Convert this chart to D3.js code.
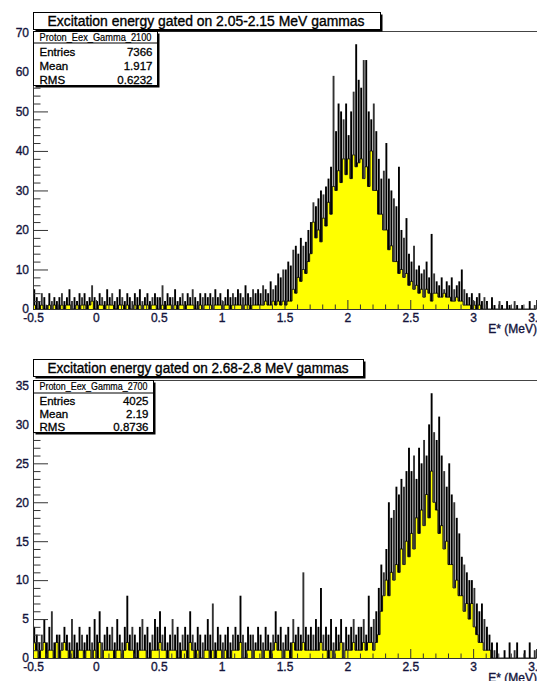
<!DOCTYPE html>
<html>
<head>
<meta charset="utf-8">
<script src="https://cdn.jsdelivr.net/npm/d3@7"></script>
<style>
  body { margin: 0; background: #fff; }
  svg { display: block; font-family: "Liberation Sans", Arial, sans-serif; }
</style>
</head>
<body>
<svg id="chart" width="537" height="681"></svg>
<script>
// 200 bins of 0.02 MeV from -0.5 to 3.5
const binLow = -0.5;
const binWidth = 0.02;

// gate 2.05-2.15 MeV : hi = tallest spike in the bin, lo = top of the yellow
const hi2100 = [
  5,3,2,4,3,1,4,2,3,2,   3,4,2,3,5,2,3,2,4,3,
  4,2,3,6,3,2,4,3,2,5,   3,4,2,3,5,3,2,4,3,2,
  4,3,5,2,3,4,2,3,4,3,   3,6,2,4,3,3,5,2,3,4,
  2,4,3,5,3,2,4,3,4,3,   4,3,5,3,4,2,3,5,3,4,
  3,5,4,3,6,4,3,5,4,5,   4,6,5,4,7,5,6,9,8,10,
  10,12,11,15,16,14,18,16,17,20,   22,27,26,28,30,29,31,33,36,59,
  45,52,50,48,52,44,50,55,67,58,   56,63,63,50,48,52,45,38,33,35,
  42,33,30,28,26,36,20,18,23,14,   12,16,10,11,9,10,12,8,19,9,
  7,6,8,5,7,6,8,5,6,7,   10,5,4,3,4,2,3,4,2,3,
  2,0,3,1,0,2,1,0,2,1,   0,2,1,0,1,0,0,2,0,1
];
const lo2100 = [
  1,0,0,1,0,0,1,0,1,0,   0,1,0,1,1,0,0,1,0,1,
  1,0,1,2,0,0,1,1,0,1,   1,1,0,0,1,1,0,1,0,0,
  1,0,1,0,1,1,0,1,1,0,   0,1,0,1,1,0,1,0,1,1,
  0,1,1,1,0,0,1,0,1,1,   1,0,1,1,1,0,1,1,0,1,
  1,1,1,0,1,1,0,1,1,1,   1,1,2,1,1,2,1,2,1,2,
  1,2,2,5,4,8,7,10,9,12,   14,22,18,20,17,23,21,27,24,31,
  30,35,32,38,34,38,33,39,36,37,   38,33,36,31,40,30,30,24,24,20,
  20,15,16,12,12,9,10,8,9,6,   7,5,6,4,5,3,5,4,2,4,
  4,3,3,4,3,3,2,2,3,2,   2,1,1,1,0,1,0,1,0,0,
  0,0,0,0,0,0,0,0,0,0,   0,0,0,0,0,0,0,0,0,0
];

// gate 2.68-2.8 MeV
const hi2700 = [
  4,3,2,3,5,2,4,6,2,3,   3,2,4,3,2,5,3,2,4,3,
  2,3,4,2,5,3,6,2,3,4,   3,4,2,5,3,2,4,8,3,4,
  3,2,4,5,3,4,2,3,5,4,   6,3,4,2,3,5,3,4,2,3,
  4,3,6,3,2,4,3,2,3,5,   3,7,2,4,3,2,3,4,2,3,
  4,3,8,3,2,4,3,3,2,4,   3,2,4,3,2,3,6,3,4,2,
  3,4,2,5,3,4,3,11,4,3,   4,3,5,4,9,3,4,3,5,2,
  4,3,5,2,4,3,4,5,3,4,   4,5,3,8,4,5,6,9,12,11,
  14,20,18,19,22,21,23,22,24,27,   24,26,23,27,25,28,26,30,34,29,
  28,31,26,24,22,25,21,20,18,16,   13,12,11,10,10,9,7,6,7,5,
  4,3,2,1,2,0,0,1,0,2,   0,1,2,0,0,1,0,2,0,1
];
const lo2700 = [
  2,1,0,1,2,0,1,1,0,2,   0,1,2,1,0,1,0,0,1,1,
  0,1,1,0,1,0,2,0,1,1,   1,1,0,1,1,0,1,2,1,1,
  0,0,1,1,1,0,0,1,1,1,   2,1,1,0,1,1,1,0,0,1,
  1,0,2,1,0,1,0,0,1,1,   0,1,0,1,1,0,1,0,0,1,
  1,1,2,0,0,1,1,0,1,1,   1,0,1,1,0,1,2,1,1,0,
  1,1,0,2,1,1,1,2,1,1,   1,1,1,1,2,1,1,0,1,0,
  1,1,2,0,1,1,1,2,1,1,   1,2,1,2,2,1,2,3,6,8,
  10,8,11,10,12,11,14,12,15,13,   16,14,18,16,19,17,21,18,24,20,
  19,16,17,14,15,12,12,9,10,8,   8,6,7,5,7,4,3,2,2,1,
  1,1,0,0,0,0,0,0,0,0,   0,0,0,0,0,0,0,0,0,0
];

const xTicks = [-0.5, 0, 0.5, 1, 1.5, 2, 2.5, 3, 3.5];
const yTicks2100 = [0, 10, 20, 30, 40, 50, 60, 70];
const yTicks2700 = [0, 5, 10, 15, 20, 25, 30, 35];

const stats2100 = [["Entries", "7366"], ["Mean", "1.917"], ["RMS", "0.6232"]];
const stats2700 = [["Entries", "4025"], ["Mean", "2.19"], ["RMS", "0.8736"]];

const labelColor = "#14143c";
const svg = d3.select("#chart");
const x = d3.scaleLinear().domain([-0.5, 3.5]).range([33, 536]);

const panels = [
  {
    title: "Excitation energy gated on 2.05-2.15 MeV gammas",
    name: "Proton_Eex_Gamma_2100",
    hi: hi2100, lo: lo2100, stats: stats2100,
    yMax: 70.35, yTicks: yTicks2100, yMinorStep: 2,
    top: 31, bottom: 309,
    titleBox: {x: 33.5, y: 12.5, w: 347, h: 17, textLen: 317},
    statBox: {x: 33.5, y: 31.5, w: 124, h: 54, head: 11.5}
  },
  {
    title: "Excitation energy gated on 2.68-2.8 MeV gammas",
    name: "Proton_Eex_Gamma_2700",
    hi: hi2700, lo: lo2700, stats: stats2700,
    yMax: 35.7, yTicks: yTicks2700, yMinorStep: 1,
    top: 380, bottom: 658,
    titleBox: {x: 33.5, y: 359.5, w: 330, h: 17, textLen: 301},
    statBox: {x: 33.5, y: 380.5, w: 120, h: 52, head: 12.5}
  }
];

panels.forEach(drawPanel);

function drawPanel(p){
  const y = d3.scaleLinear().domain([0, p.yMax]).range([p.bottom, p.top]);
  const g = svg.append("g");

  const bins = p.hi.map((h, i) => ({x0: binLow + i * binWidth, hi: h, lo: p.lo[i]}));
  const pts = bins.map(b => [b.x0, b.lo]).concat([[binLow + bins.length * binWidth, 0]]);

  const area = d3.area()
    .x(d => x(d[0]))
    .y0(y(0))
    .y1(d => y(d[1]))
    .curve(d3.curveStepAfter);

  g.append("path").datum(pts)
    .attr("d", area)
    .attr("fill", "#ffff00");

  g.append("path").datum(pts)
    .attr("d", area.lineY1())
    .attr("fill", "none")
    .attr("stroke", "#000")
    .attr("stroke-width", 0.9);

  g.selectAll("line.spike")
    .data(bins.filter(b => b.hi > b.lo))
    .join("line")
    .attr("class", "spike")
    .attr("x1", b => x(b.x0 + binWidth / 2))
    .attr("x2", b => x(b.x0 + binWidth / 2))
    .attr("y1", b => y(b.lo))
    .attr("y2", b => y(b.hi))
    .attr("stroke", (b, i) => i % 4 === 3 ? "#333" : "#000")
    .attr("stroke-width", 1.9);

  // frame top
  g.append("line")
    .attr("x1", 33).attr("x2", 537)
    .attr("y1", p.top + 0.5).attr("y2", p.top + 0.5)
    .attr("stroke", "#444");

  // y axis (major + minor, ticks pointing inwards)
  const yMinor = d3.range(0, p.yMax, p.yMinorStep).filter(v => !p.yTicks.includes(v));
  const yAxisG = g.append("g").attr("transform", "translate(33,0)");
  yAxisG.append("g")
    .call(d3.axisLeft(y).tickValues(yMinor).tickSize(-7.5).tickFormat(""))
    .call(s => s.select(".domain").remove());
  yAxisG.append("g")
    .call(d3.axisLeft(y).tickValues(p.yTicks).tickSizeInner(-15).tickSizeOuter(0)
      .tickPadding(4).tickFormat(d => String(d)));
  yAxisG.selectAll("line, path").attr("stroke", "#333");
  styleLabels(yAxisG.selectAll("text"));

  // x axis
  const xMinor = d3.range(-5, 36).map(i => i / 10).filter(v => !xTicks.some(t => Math.abs(t - v) < 1e-6));
  const xAxisG = g.append("g").attr("transform", `translate(0,${p.bottom})`);
  xAxisG.append("g")
    .call(d3.axisBottom(x).tickValues(xMinor).tickSize(-4.5).tickFormat(""))
    .call(s => s.select(".domain").remove());
  xAxisG.append("g")
    .call(d3.axisBottom(x).tickValues(xTicks).tickSizeInner(-9).tickSizeOuter(0)
      .tickPadding(4).tickFormat(d => String(d)));
  xAxisG.selectAll("line, path").attr("stroke", "#333");
  styleLabels(xAxisG.selectAll("text"));

  styleLabels(g.append("text")
    .attr("x", 537)
    .attr("y", p.bottom + 24)
    .attr("text-anchor", "end")
    .text("E* (MeV)"));

  // title pave
  const tb = p.titleBox;
  pave(g, tb.x, tb.y, tb.w, tb.h, 2);
  g.append("text")
    .attr("x", tb.x + 14)
    .attr("y", tb.y + tb.h - 4)
    .attr("font-size", 14)
    .attr("textLength", tb.textLen)
    .attr("lengthAdjust", "spacingAndGlyphs")
    .attr("stroke", "#000")
    .attr("stroke-width", 0.35)
    .text(p.title);

  // stats pave
  const sb = p.statBox;
  pave(g, sb.x, sb.y, sb.w, sb.h, 2);
  g.append("line")
    .attr("x1", sb.x).attr("x2", sb.x + sb.w)
    .attr("y1", sb.y + sb.head).attr("y2", sb.y + sb.head)
    .attr("stroke", "#000");
  g.append("text")
    .attr("x", sb.x + 6)
    .attr("y", sb.y + sb.head / 2)
    .attr("dy", "0.35em")
    .attr("font-size", 10.5)
    .attr("textLength", sb.w - 12)
    .attr("lengthAdjust", "spacingAndGlyphs")
    .attr("stroke", "#000")
    .attr("stroke-width", 0.2)
    .text(p.name);
  const rowH = (sb.h - sb.head) / p.stats.length;
  p.stats.forEach(([label, value], i) => {
    const ty = sb.y + sb.head + rowH * (i + 0.5) + 1.5;
    g.append("text")
      .attr("x", sb.x + 6).attr("y", ty).attr("dy", "0.35em")
      .attr("font-size", 11.5)
      .attr("stroke", "#000").attr("stroke-width", 0.3)
      .text(label);
    g.append("text")
      .attr("x", sb.x + sb.w - 5).attr("y", ty).attr("dy", "0.35em")
      .attr("font-size", 11.5)
      .attr("stroke", "#000").attr("stroke-width", 0.3)
      .attr("text-anchor", "end")
      .text(value);
  });
}

function styleLabels(sel){
  return sel
    .attr("font-size", 12)
    .attr("font-family", "Liberation Sans, Arial, sans-serif")
    .attr("fill", labelColor)
    .attr("stroke", labelColor)
    .attr("stroke-width", 0.35);
}

function pave(g, x0, y0, w, h, shadow){
  g.append("rect")
    .attr("x", x0 + shadow).attr("y", y0 + shadow)
    .attr("width", w).attr("height", h)
    .attr("fill", "#000");
  g.append("rect")
    .attr("x", x0).attr("y", y0)
    .attr("width", w).attr("height", h)
    .attr("fill", "#fff")
    .attr("stroke", "#000")
    .attr("stroke-width", 1);
}
</script>
</body>
</html>
